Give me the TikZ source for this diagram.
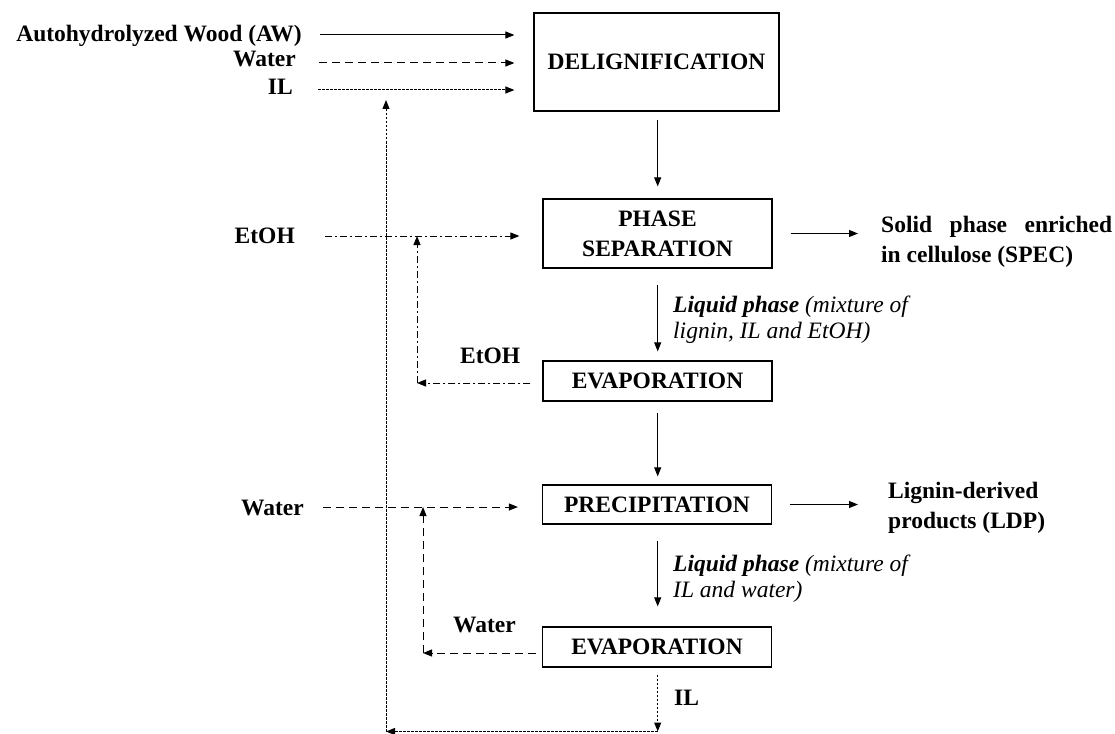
\documentclass[tikz,border=0pt]{standalone}
\usepackage{fontspec}
\setmainfont{Liberation Serif}
\usetikzlibrary{arrows.meta,calc}
\begin{document}
\begin{tikzpicture}[x=1pt,y=-1pt,
  font=\fontsize{23.5}{30}\selectfont\bfseries,
  box/.style={draw, line width=1.2pt, inner sep=0pt, align=center, minimum width=229pt},
  lbl/.style={inner sep=0pt},
  note/.style={inner sep=0pt, align=left, font=\fontsize{23.5}{26}\selectfont\mdseries\itshape},
  arr/.style={line width=1pt, -{Triangle[length=9pt,width=7pt]}},
  dsh/.style={dash pattern=on 8pt off 5pt},
  dshdot/.style={dash pattern=on 7pt off 3pt on 2pt off 3pt},
  dots/.style={dash pattern=on 2.5pt off 1.5pt}]
\useasboundingbox (0,0) rectangle (1115,733);

% process boxes
\node[box, minimum width=245pt, minimum height=98pt] (delig) at (656.5,62) {DELIGNIFICATION};
\node[box, minimum height=69pt] (phase) at (657.5,233.5) {PHASE\\SEPARATION};
\node[box, minimum height=40pt] (evapA) at (657.5,381) {EVAPORATION};
\node[box, minimum height=39pt] (precip) at (657,504.5) {PRECIPITATION};
\node[box, minimum height=40pt] (evapB) at (657,647) {EVAPORATION};

% input labels
\node[lbl, anchor=base east] (aw) at (302,42) {Autohydrolyzed Wood (AW)};
\node[lbl, anchor=base east] (watA) at (296,67) {Water};
\node[lbl, anchor=base east] (ilA) at (293,95) {IL};
\node[lbl, anchor=base east] (etA) at (295,243) {EtOH};
\node[lbl, anchor=base east] (watB) at (304,515) {Water};

% recycle labels
\node[lbl, anchor=base west] (etR) at (460,363) {EtOH};
\node[lbl, anchor=base west] (watR) at (453,632) {Water};
\node[lbl, anchor=base west] (ilR) at (674,705) {IL};

% products (base anchor = last line)
\node[lbl, anchor=base west, align=left] (spec) at (881,262)
  {\makebox[231pt][s]{Solid phase enriched}\\in cellulose (SPEC)};
\node[lbl, anchor=base west, align=left] (ldp) at (888,528)
  {Lignin-derived\\products (LDP)};

% stream notes
\node[note, anchor=base west] (liqA) at (673,338)
  {\textbf{Liquid phase} (mixture of\\lignin, IL and EtOH)};
\node[note, anchor=base west] (liqB) at (673,597)
  {\textbf{Liquid phase} (mixture of\\IL and water)};

% coordinates
\coordinate (col) at (657.7,0);
\coordinate (awS) at (320,35);
\coordinate (watS) at (319,63);
\coordinate (ilS) at (318,90);
\coordinate (etS) at (325,236);
\coordinate (etC) at (417,383);
\coordinate (wS) at (323,507);
\coordinate (wC) at (423,653);
\coordinate (bot) at (386,731.5);
\coordinate (topR) at (386,100);

% feeds to delignification
\draw[arr, shorten >=19pt] (awS) -- (awS -| delig.west);
\draw[arr, dsh, shorten >=19pt] (watS) -- (watS -| delig.west);
\draw[arr, dots, shorten >=19pt] (ilS) -- (ilS -| delig.west);

% main vertical flow
\draw[arr, shorten <=8pt, shorten >=12pt] (delig.south -| col) -- (phase.north -| col);
\draw[arr, shorten <=16pt, shorten >=9pt] (phase.south -| col) -- (evapA.north -| col);
\draw[arr, shorten <=11pt, shorten >=8pt] (evapA.south -| col) -- (precip.north -| col);
\draw[arr, shorten <=16pt, shorten >=20pt] (precip.south -| col) -- (evapB.north -| col);

% products
\draw[arr, shorten <=18pt, shorten >=23pt] (phase.east) -- (spec.west |- phase.east);
\draw[arr, shorten <=18pt, shorten >=30pt] (precip.east) -- (ldp.west |- precip.east);

% EtOH feed and recycle
\draw[arr, dshdot, shorten >=23pt] (etS) -- (etS -| phase.west);
\draw[arr, dshdot, shorten <=12pt] (evapA.west |- etC) -- (etC);
\draw[arr, dshdot] (etC) -- (etC |- etS);

% Water feed and recycle
\draw[arr, dsh, shorten >=24pt] (wS) -- (wS -| precip.west);
\draw[arr, dsh, shorten <=6pt] (evapB.west |- wC) -- (wC);
\draw[arr, dsh] (wC) -- (wC |- wS);

% IL recycle
\draw[arr, dots, shorten <=7pt] (evapB.south -| col) -- (col |- bot);
\draw[arr, dots] (col |- bot) -- (bot);
\draw[arr, dots] (bot) -- (topR);
\end{tikzpicture}
\end{document}
